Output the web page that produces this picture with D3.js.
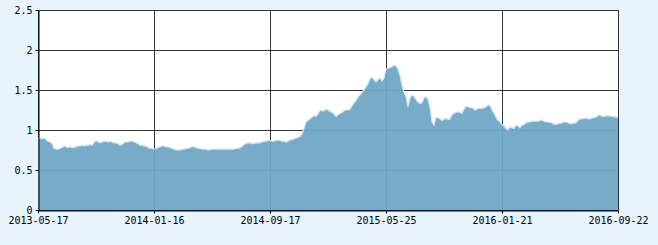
<!DOCTYPE html>
<html>
<head>
<meta charset="utf-8">
<script src="https://cdn.jsdelivr.net/npm/d3@7"></script>
<style>
  body { margin: 0; background: #e8f4fc; }
  svg { display: block; }
  .axis text { font-family: "DejaVu Sans Mono", monospace; font-size: 10px; fill: #000; }
  .axis path, .axis line { stroke: #000; }
</style>
</head>
<body>
<script>
// net value series, one point per sample
const values = [
  0.89, 0.90, 0.89, 0.90, 0.88, 0.86, 0.85, 0.83, 0.77, 0.76, 0.76, 0.77, 0.78, 0.80, 0.79, 0.78, 0.79, 0.78, 0.78, 0.79,
  0.80, 0.80, 0.81, 0.80, 0.81, 0.81, 0.82, 0.81, 0.84, 0.87, 0.85, 0.84, 0.85, 0.86, 0.86, 0.85, 0.86, 0.85, 0.84, 0.84,
  0.83, 0.81, 0.82, 0.84, 0.85, 0.85, 0.86, 0.86, 0.85, 0.84, 0.83, 0.81, 0.81, 0.80, 0.80, 0.78, 0.77, 0.77, 0.76,
  0.77, 0.78, 0.79, 0.80, 0.80, 0.79, 0.79, 0.78, 0.77, 0.76, 0.75, 0.75, 0.75, 0.76, 0.76, 0.77, 0.77, 0.78, 0.79, 0.79,
  0.78, 0.77, 0.77, 0.76, 0.76, 0.76, 0.75, 0.75, 0.76, 0.76, 0.76, 0.76, 0.76, 0.76, 0.76, 0.76, 0.76, 0.76, 0.76, 0.76,
  0.77, 0.77, 0.78, 0.79, 0.82, 0.83, 0.84, 0.84, 0.83, 0.83, 0.84, 0.84, 0.84, 0.85, 0.86, 0.86, 0.87, 0.87,
  0.86, 0.86, 0.87, 0.875, 0.87, 0.86, 0.86, 0.85, 0.86, 0.875, 0.88, 0.89, 0.90, 0.91, 0.92, 0.95, 1.02, 1.10, 1.12, 1.14,
  1.16, 1.18, 1.17, 1.20, 1.25, 1.24, 1.24, 1.26, 1.25, 1.23, 1.22, 1.20, 1.17, 1.19, 1.21, 1.22, 1.24, 1.25, 1.25, 1.26,
  1.30, 1.34, 1.37, 1.41, 1.44, 1.47, 1.50, 1.54, 1.58, 1.64, 1.66, 1.63, 1.60, 1.63, 1.65, 1.61, 1.65, 1.76,
  1.77, 1.78, 1.79, 1.81, 1.80, 1.76, 1.68, 1.56, 1.47, 1.42, 1.29, 1.40, 1.44, 1.42, 1.38, 1.35, 1.33, 1.34, 1.40, 1.42,
  1.38, 1.29, 1.10, 1.06, 1.16, 1.15, 1.14, 1.12, 1.13, 1.15, 1.13, 1.14, 1.19, 1.21, 1.22, 1.23, 1.22, 1.21, 1.26, 1.30,
  1.29, 1.28, 1.28, 1.26, 1.25, 1.27, 1.27, 1.27, 1.28, 1.29, 1.31, 1.31, 1.25, 1.21, 1.16, 1.12, 1.10, 1.07,
  1.05, 1.02, 1.00, 1.04, 1.03, 1.02, 1.06, 1.05, 1.03, 1.06, 1.07, 1.09, 1.10, 1.10, 1.11, 1.11, 1.11, 1.11, 1.12, 1.125,
  1.11, 1.10, 1.10, 1.095, 1.09, 1.07, 1.07, 1.08, 1.08, 1.09, 1.10, 1.10, 1.09, 1.08, 1.08, 1.09, 1.09, 1.12, 1.14, 1.14,
  1.145, 1.15, 1.14, 1.14, 1.15, 1.155, 1.16, 1.18, 1.19, 1.17, 1.17, 1.175, 1.18, 1.175, 1.17, 1.165, 1.16, 1.16
]
const dateLabels = ['2013-05-17', '2014-01-16', '2014-09-17', '2015-05-25', '2016-01-21', '2016-09-22']
const yTicks = [0, 0.5, 1, 1.5, 2, 2.5]

const width = 658, height = 245
const margin = {top: 10, right: 40, bottom: 35, left: 38}
const w = width - margin.left - margin.right
const h = height - margin.top - margin.bottom

const svg = d3.select('body').append('svg')
    .attr('width', width)
    .attr('height', height)

const g = svg.append('g')
    .attr('transform', `translate(${margin.left},${margin.top})`)

const x = d3.scaleLinear().domain([0, values.length - 1]).range([0, w])
const y = d3.scaleLinear().domain([0, 2.5]).range([h, 0])

const step = (values.length - 1) / (dateLabels.length - 1)
const xTickIdx = dateLabels.map((d, i) => i * step)

g.append('rect')
    .attr('width', w)
    .attr('height', h)
    .attr('fill', '#fff')

// grid
g.append('g').selectAll('line.h')
    .data(yTicks).enter()
    .append('line')
    .attr('x1', 0).attr('x2', w)
    .attr('y1', d => y(d) + 0.5).attr('y2', d => y(d) + 0.5)
    .attr('stroke', '#333')
g.append('g').selectAll('line.v')
    .data(xTickIdx).enter()
    .append('line')
    .attr('x1', d => Math.round(x(d)) + 0.5).attr('x2', d => Math.round(x(d)) + 0.5)
    .attr('y1', 0).attr('y2', h)
    .attr('stroke', '#333')

const area = d3.area()
    .x((d, i) => x(i))
    .y0(h)
    .y1(d => y(d))

g.append('path')
    .datum(values)
    .attr('d', area)
    .attr('fill', 'rgb(112,166,197)')
    .attr('fill-opacity', 0.95)

g.append('path')
    .datum(values)
    .attr('d', d3.line().x((d, i) => x(i)).y(d => y(d)))
    .attr('fill', 'none')
    .attr('stroke', '#cfe6f6')
    .attr('stroke-width', 1.2)

g.append('g')
    .attr('class', 'axis')
    .attr('transform', `translate(0.5,0)`)
    .call(d3.axisLeft(y).tickValues(yTicks).tickSize(3).tickSizeOuter(0).tickPadding(3)
        .tickFormat(d => d3.format('')(d)))

g.append('g')
    .attr('class', 'axis')
    .attr('transform', `translate(0,${h + 0.5})`)
    .call(d3.axisBottom(x).tickValues(xTickIdx).tickSize(3).tickSizeOuter(0).tickPadding(3)
        .tickFormat((d, i) => dateLabels[i]))
</script>
</body>
</html>
